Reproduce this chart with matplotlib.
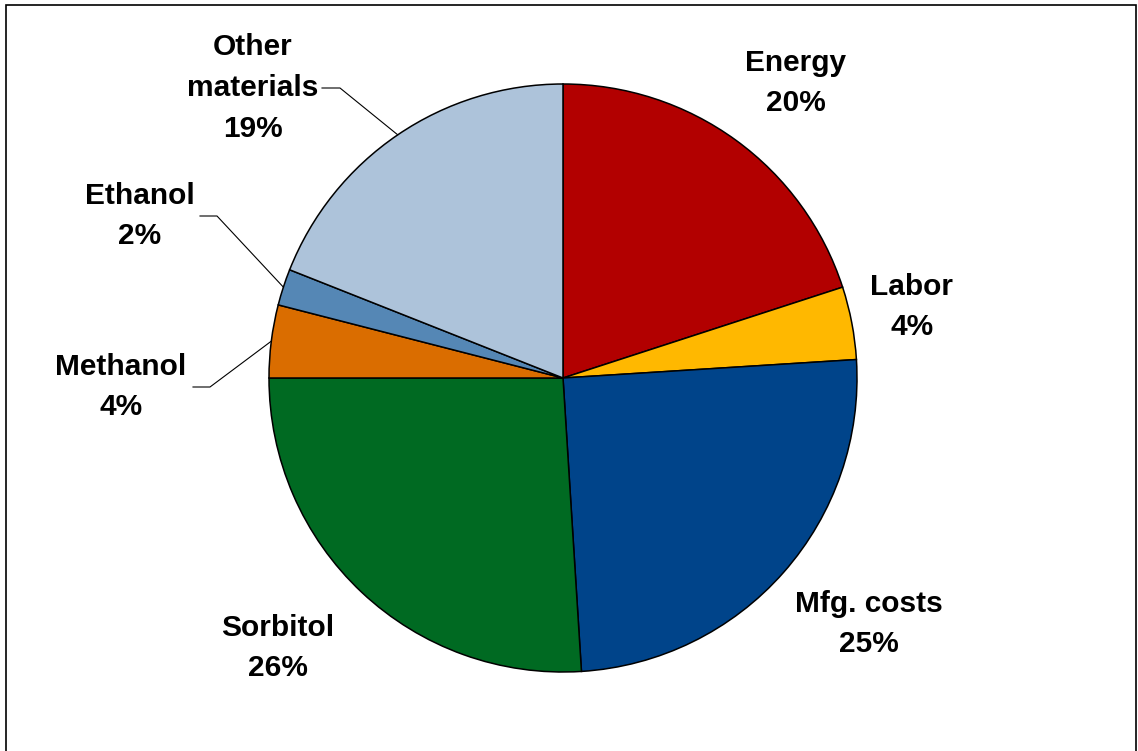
import numpy as np
import matplotlib.pyplot as plt
from matplotlib.patches import Rectangle

# cost breakdown (percent), clockwise from 12 o'clock
categories = ['Energy', 'Labor', 'Mfg. costs', 'Sorbitol', 'Methanol', 'Ethanol', 'Other\nmaterials']
shares = [20, 4, 25, 26, 4, 2, 19]
colors = ['#B20000', '#FFB800', '#00448A', '#006A22', '#DA6D00', '#5587B5', '#ADC3DA']

# label centres in pixel coords (y measured from the top)
label_pos = [(796, 83), (912, 307), (869, 624), (278, 648), (121, 387), (140, 216), (253, 88)]
# leader lines for the small / crowded slices: (elbow, end of horizontal tail)
leaders = {4: ((210, 387), (193, 387)),
           5: ((217, 216), (200, 216)),
           6: ((340, 88), (322, 88))}

W, H = 1138, 751
plt.rcParams['font.family'] = ['Liberation Sans', 'DejaVu Sans']

fig = plt.figure(figsize=(W / 100, H / 100), dpi=100)
ax = fig.add_axes([0, 0, 1, 1])

cx, cy, r = 563, H - 378, 294
wedges, _ = ax.pie(shares, colors=colors, startangle=90, counterclock=False,
                   center=(cx, cy), radius=r, frame=True,
                   wedgeprops=dict(edgecolor='black', linewidth=1.1))
ax.set_xlim(0, W)
ax.set_ylim(0, H)
ax.axis('off')

for i, (name, val) in enumerate(zip(categories, shares)):
    x, y = label_pos[i]
    ax.text(x, H - y, f'{name}\n{val}%', ha='center', va='center',
            fontsize=21.5, fontweight='bold', linespacing=1.58)

for i, (elbow, end) in leaders.items():
    w = wedges[i]
    ang = np.deg2rad((w.theta1 + w.theta2) / 2)
    ex, ey = cx + r * np.cos(ang), cy + r * np.sin(ang)
    ax.plot([ex, elbow[0], end[0]], [ey, H - elbow[1], H - end[1]],
            color='black', linewidth=0.8)

# outer frame (bottom edge runs off the canvas)
ax.add_patch(Rectangle((6, -10), 1130, H - 5 + 10, fill=False,
                       edgecolor='black', linewidth=1.2, clip_on=False))

fig.savefig('out.png', dpi=100)
